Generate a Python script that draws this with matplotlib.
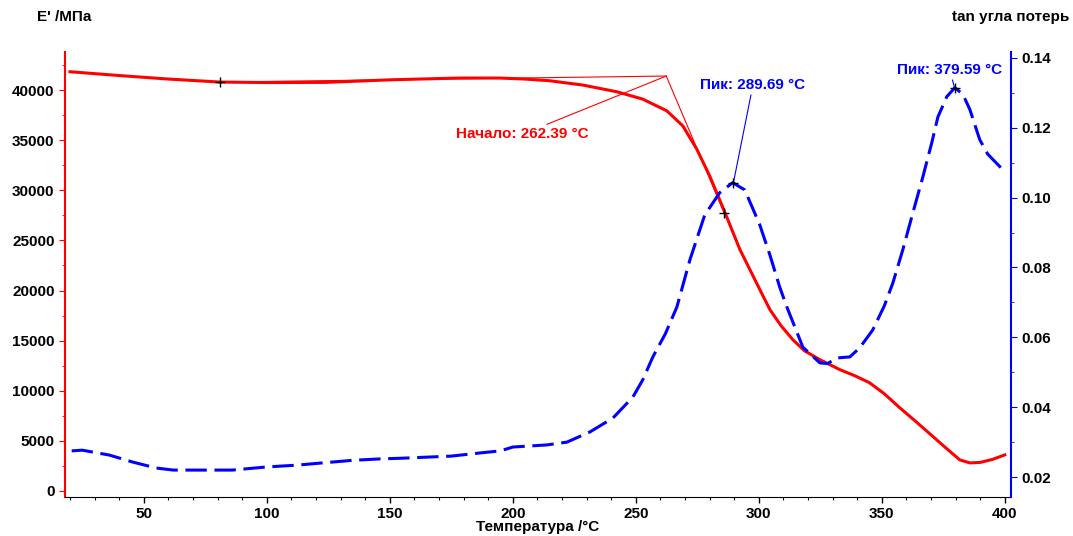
import matplotlib
matplotlib.use('Agg')
import matplotlib.pyplot as plt
from matplotlib.ticker import MultipleLocator

plt.rcParams['font.family'] = ['Liberation Sans', 'DejaVu Sans']
plt.rcParams['font.weight'] = 'bold'
plt.rcParams['font.size'] = 11

# storage modulus E' (MPa) vs temperature
t_e = [20, 40, 60, 81, 100, 124, 151, 178, 194.7, 205, 215, 228.5, 242.3,
       252.8, 262.6, 269.1, 274.8, 280.1, 286.2, 292.3, 300.4, 304.5, 309,
       313.8, 318.5, 324.8, 333, 339, 345, 351, 357.3, 363.5, 370, 376,
       381.7, 385.8, 390, 395, 400]
e_mod = [41830, 41450, 41100, 40800, 40750, 40770, 41030, 41200, 41200, 41100,
         40930, 40500, 39830, 39100, 37930, 36430, 34100, 31400, 27800, 24100,
         20100, 18100, 16500, 15100, 14000, 13100, 12100, 11500, 10800, 9700,
         8300, 7000, 5600, 4300, 3100, 2800, 2850, 3150, 3600]

# loss tangent vs temperature
t_tan = [20.7, 25, 36, 45.5, 55, 62, 75, 86, 100, 112, 125, 135, 146, 155, 175,
         186.6, 195, 200, 213.8, 222, 231.3, 240.7, 248.8, 252.8, 257, 262,
         266.7, 272, 278, 284.1, 289.4, 294.3, 300.4, 304.5, 308.5, 311.4,
         317.9, 324.8, 328, 331.7, 337, 341, 346.3, 351, 354.5, 358.5, 362.6,
         366.7, 370.3, 372.8, 376.4, 379.7, 383, 385.8, 389.8, 393, 396,
         399.2]
tan_d = [0.0275, 0.0277, 0.0263, 0.0243, 0.0226, 0.0220, 0.0220, 0.0220,
         0.0229, 0.0234, 0.0242, 0.0248, 0.0252, 0.0254, 0.0260, 0.0269,
         0.0275, 0.0286, 0.0292, 0.0300, 0.0329, 0.0369, 0.0429, 0.0478,
         0.0545, 0.0610, 0.0687, 0.0822, 0.0950, 0.1014, 0.1043, 0.1022,
         0.0922, 0.0836, 0.0744, 0.0687, 0.0572, 0.0527, 0.0525, 0.0541,
         0.0544, 0.0570, 0.0621, 0.0690, 0.0756, 0.0850, 0.0956, 0.1060,
         0.1157, 0.1231, 0.1289, 0.1315, 0.1295, 0.1252, 0.1166, 0.1125,
         0.1103, 0.1080]

# onset construction
onset_t, onset_e = 262.39, 41400
base_pt = (81, 40800)
steep_pt = (286, 27700)
peak1 = (289.69, 0.1043)
peak2 = (379.59, 0.1314)

fig = plt.figure(figsize=(10.73, 5.36), dpi=100)
ax = fig.add_axes([0.0606, 0.0728, 0.8816, 0.8302])
ax2 = ax.twinx()

ax.plot(t_e, e_mod, color='red', lw=2.2, zorder=3)
ax2.plot(t_tan, tan_d, color='blue', lw=2.2, ls=(0, (7, 2.5)))

ax.set_xlim(18, 402.5)
ax.set_ylim(-600, 43800)
ax2.set_ylim(0.0143, 0.1417)

# tangents for onset
ax.plot([base_pt[0], onset_t], [base_pt[1], onset_e], color='red', lw=0.8)
ax.plot([onset_t, steep_pt[0]], [onset_e, steep_pt[1]], color='red', lw=0.8)
ax.plot([base_pt[0], steep_pt[0]], [base_pt[1], steep_pt[1]], ls='none',
        marker='+', color='black', ms=7, mew=1, zorder=5)
ax.annotate('Начало: 262.39 °C', xy=(onset_t, onset_e), xytext=(204, 36300),
            color='red', fontweight='bold', ha='center', va='top',
            arrowprops=dict(arrowstyle='-', color='red', lw=0.8,
                            shrinkA=0, shrinkB=0))

ax2.plot([peak1[0], peak2[0]], [peak1[1], peak2[1]], ls='none', marker='+',
         color='black', ms=7, mew=1, zorder=5)
ax2.annotate('Пик: 289.69 °C', xy=peak1, xytext=(297.6, 0.1302),
             color='blue', fontweight='bold', ha='center', va='bottom',
             arrowprops=dict(arrowstyle='-', color='blue', lw=0.8,
                             shrinkA=0, shrinkB=0))
ax2.annotate('Пик: 379.59 °C', xy=peak2, xytext=(377.6, 0.1345),
             color='blue', fontweight='bold', ha='center', va='bottom',
             arrowprops=dict(arrowstyle='-', color='blue', lw=0.8,
                             shrinkA=0, shrinkB=0))

ax.xaxis.set_major_locator(MultipleLocator(50))
ax.xaxis.set_minor_locator(MultipleLocator(10))
ax.yaxis.set_major_locator(MultipleLocator(5000))
ax.yaxis.set_minor_locator(MultipleLocator(2500))
ax2.yaxis.set_major_locator(MultipleLocator(0.02))
ax2.yaxis.set_minor_locator(MultipleLocator(0.01))
ax2.yaxis.set_major_formatter(plt.FuncFormatter(lambda v, p: '%.2f' % v))

for a in (ax, ax2):
    a.spines['top'].set_visible(False)
ax.spines['right'].set_visible(False)
ax2.spines['left'].set_visible(False)
ax2.spines['bottom'].set_visible(False)
ax.spines['left'].set_color('red')
ax2.spines['right'].set_color('blue')
ax.spines['left'].set_linewidth(1.5)
ax2.spines['right'].set_linewidth(1.5)

ax.tick_params(axis='x', which='major', length=4, width=1, direction='out')
ax.tick_params(axis='x', which='minor', length=2.5, width=0.8)
ax.tick_params(axis='y', which='both', colors='red', labelcolor='black')
ax.tick_params(axis='y', which='major', length=4)
ax.tick_params(axis='y', which='minor', length=2.5)
ax2.tick_params(axis='y', which='both', colors='blue', labelcolor='black')
ax2.tick_params(axis='y', which='major', length=4)
ax2.tick_params(axis='y', which='minor', length=2.5)

fig.text(0.0345, 0.968, "E' /МПа", ha='left', va='center', fontweight='bold')
fig.text(0.997, 0.968, 'tan угла потерь', ha='right', va='center',
         fontweight='bold')
fig.text(0.501, 0.016, 'Температура /°C', ha='center', va='center',
         fontweight='bold')

fig.savefig('out.png', dpi=100)
